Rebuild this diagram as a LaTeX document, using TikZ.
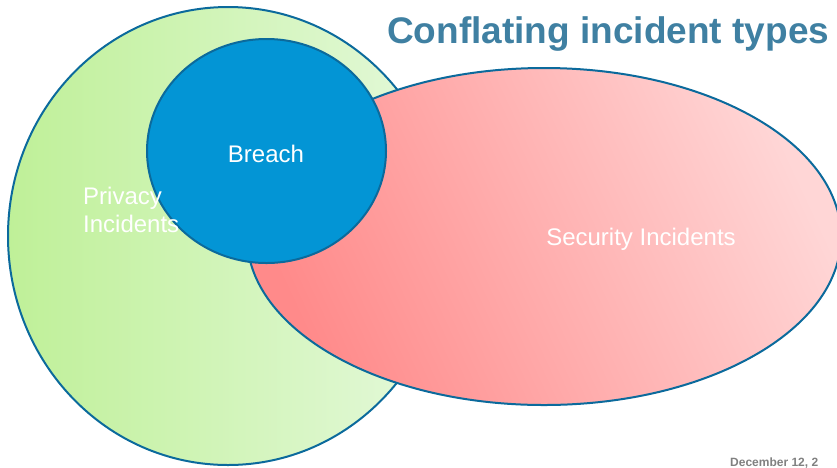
\documentclass[tikz,border=0pt]{standalone}
\usepackage{fontspec}
\setmainfont{Liberation Sans}
\usetikzlibrary{shapes.geometric}

\definecolor{rim}{HTML}{0B6A9C}
\definecolor{greenA}{HTML}{BFF098}
\definecolor{greenB}{HTML}{E5F9DC}
\definecolor{redA}{HTML}{FF8A8A}
\definecolor{redB}{HTML}{FFD6D6}
\definecolor{breachblue}{HTML}{0395D5}
\definecolor{titleblue}{HTML}{3F80A2}
\definecolor{dategray}{HTML}{808080}

\tikzset{
  setshape/.style={ellipse, draw=rim, line width=2pt, inner sep=0pt},
  setlabel/.style={text=white, font=\fontsize{24}{28}\selectfont, inner sep=0pt},
}

\begin{document}
\begin{tikzpicture}[x=1pt,y=-1pt]
  \useasboundingbox (0,0) rectangle (837,467);

  % privacy incidents: large ellipse with a horizontal green fade
  \node[setshape, minimum width=440pt, minimum height=458pt,
        left color=greenA, right color=greenB] (privacy) at (228,236) {};

  % security incidents: wide ellipse with a diagonal red fade
  \node[setshape, minimum width=594pt, minimum height=337pt,
        top color=redB, bottom color=redA, shading angle=-65] (security) at (544,236.5) {};

  % breach: the overlap set, drawn on top
  \node[setshape, fill=breachblue, minimum width=239pt, minimum height=224pt] (breach) at (266.5,151) {};

  % labels
  \node[setlabel, anchor=base] (breachtxt) at (266,162) {Breach};
  \node[setlabel, anchor=base west, align=left] (privacytxt) at (83,232)
       {Privacy\\[-0.5pt]Incidents};
  \node[setlabel, anchor=base] (securitytxt) at (641,245) {Security Incidents};

  % heading and footer
  \node[anchor=base west, inner sep=0pt, text=titleblue,
        font=\fontsize{37}{40}\selectfont\bfseries] (title) at (387,43)
       {Conflating incident types};
  \node[anchor=base west, inner sep=0pt, text=dategray,
        font=\fontsize{12}{14}\selectfont\bfseries] (date) at (730,466)
       {December 12, 2};
\end{tikzpicture}
\end{document}
